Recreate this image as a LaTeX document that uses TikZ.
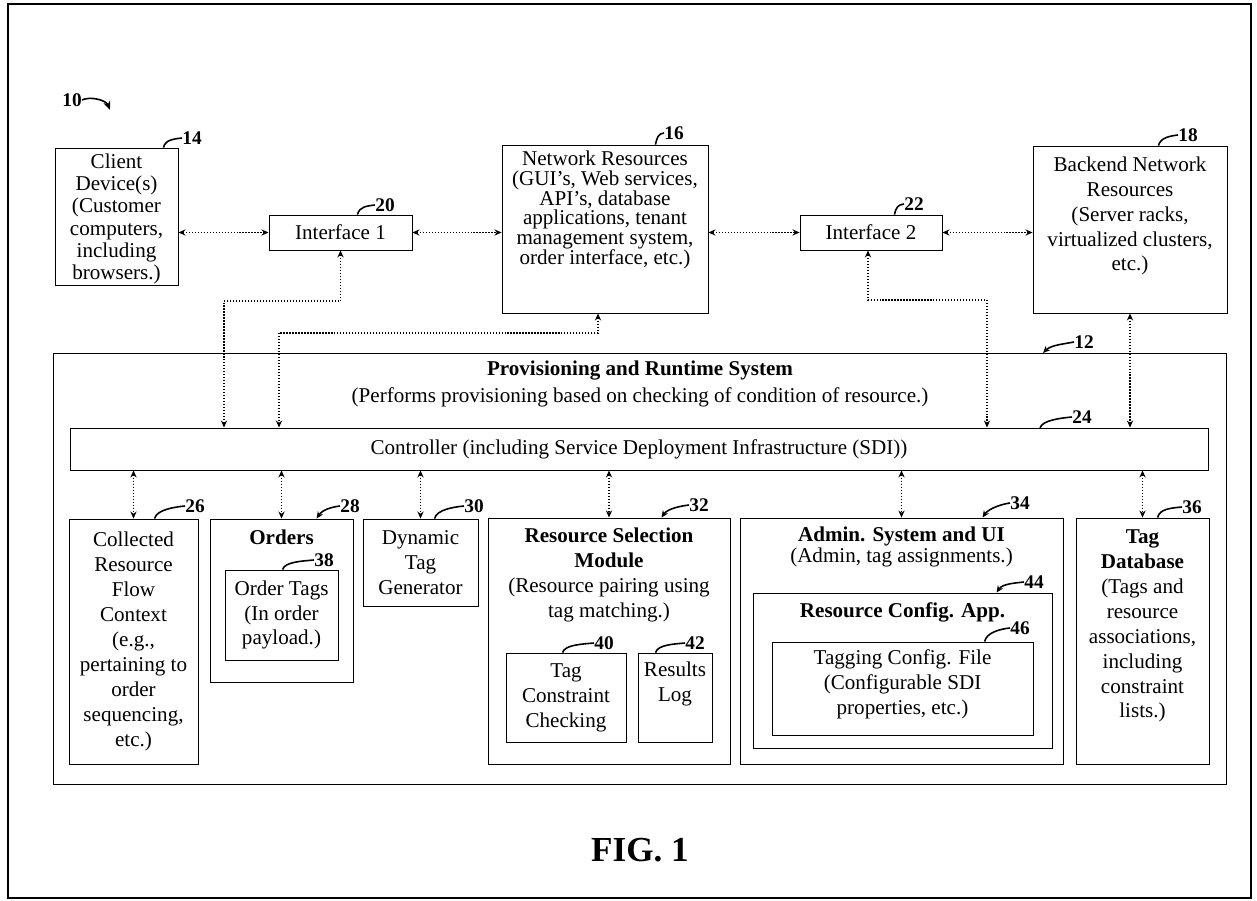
\documentclass[tikz,border=0pt]{standalone}
\usepackage{fontspec}
\setmainfont{Liberation Serif}
\usetikzlibrary{positioning, arrows.meta, fit, shadows, calc}

\begin{document}
\begin{tikzpicture}[x=0.02cm, y=0.02cm,
    box/.style={draw, fill=white, line width=0.5pt, inner sep=0pt,
        drop shadow={shadow xshift=0.8pt, shadow yshift=-0.8pt, fill=black, opacity=1}},
    txt/.style={align=center, inner sep=0pt, font=\fontsize{12}{14.2}\selectfont},
    link/.style={densely dotted, line width=0.7pt,
        {Stealth[length=4pt,width=3.5pt]}-{Stealth[length=4pt,width=3.5pt]}},
    lead/.style={line width=0.9pt},
    leadtip/.style={line width=0.9pt, {Stealth[length=4pt,width=3.5pt]}-},
    num/.style={inner sep=0pt, font=\bfseries\fontsize{11}{12}\selectfont}]
    \useasboundingbox (0,0) rectangle (1257,-901);
    \draw[line width=1pt] (8,-4) rectangle (1251,-898);

    % Figure number
    \node[num] (n10) at (72,-100) {10};
    \coordinate (p10) at (110,-110);
    \draw[-{Stealth[length=5pt,width=4pt]}, line width=0.9pt] (n10.east) .. controls +(8,4) and +(-4,10) .. (p10);

    % Top row
    \node[box, fit={(55,-148) (178,-285)}] (client) {};
    \node[txt, font=\fontsize{12}{12.6}\selectfont] (client-t) at (116.5,-219) {Client\\Device(s)\\(Customer\\computers,\\including\\browsers.)};
    \node[box, fit={(269,-215) (412,-250)}] (if1) {};
    \node[txt] (if1-t) at (if1) {Interface 1};
    \node[box, fit={(502,-145) (708,-313)}] (netres) {};
    \node[txt, font=\fontsize{12}{11.2}\selectfont] (netres-t) at (605,-210) {Network Resources\\(GUI's, Web services,\\API's, database\\applications, tenant\\management system,\\order interface, etc.)};
    \node[box, fit={(800,-215) (942,-250)}] (if2) {};
    \node[txt] (if2-t) at (if2) {Interface 2};
    \node[box, fit={(1033,-146) (1227,-313)}] (backend) {};
    \node[txt] (backend-t) at (1130,-216) {Backend Network\\Resources\\(Server racks,\\virtualized clusters,\\etc.)};

    % Provisioning and runtime system
    \node[box, fit={(53,-353) (1226,-784)}] (prov) {};
    \node[txt, font=\fontsize{12}{15}\selectfont] (prov-t) at (640,-384) {\textbf{Provisioning and Runtime System}\\(Performs provisioning based on checking of condition of resource.)};
    \node[box, fit={(70,-428) (1208,-470)}] (ctrl) {};
    \node[txt] (ctrl-t) at (ctrl) {Controller (including Service Deployment Infrastructure (SDI))};

    % Modules
    \node[box, fit={(69,-519) (198,-764)}] (coll) {};
    \node[txt] (coll-t) at (coll) {Collected\\Resource\\Flow\\Context\\(e.g.,\\pertaining to\\order\\sequencing,\\etc.)};
    \node[box, fit={(210,-519) (353,-682)}] (orders) {};
    \node[txt, font=\bfseries\fontsize{12}{14.2}\selectfont] (orders-t) at (281.5,-537) {Orders};
    \node[box, fit={(225,-570) (338,-660)}] (otags) {};
    \node[txt] (otags-t) at (otags) {Order Tags\\(In order\\payload.)};
    \node[box, fit={(363,-519) (478,-606)}] (dyn) {};
    \node[txt] (dyn-t) at (dyn) {Dynamic\\Tag\\Generator};
    \node[box, fit={(488,-518) (730,-764)}] (rsm) {};
    \node[txt] (rsm-t) at (609,-575) {\textbf{Resource Selection}\\\textbf{Module}\\(Resource pairing using\\tag matching.)};
    \node[box, fit={(506,-653) (626,-742)}] (tcc) {};
    \node[txt] (tcc-t) at (tcc) {Tag\\Constraint\\Checking};
    \node[box, fit={(638,-653) (712,-742)}] (rlog) {};
    \node[txt] (rlog-t) at (675,-684) {Results\\Log};
    \node[box, fit={(740,-518) (1063,-764)}] (admin) {};
    \node[txt, font=\fontsize{12}{12}\selectfont] (admin-t) at (901.5,-547) {\textbf{Admin. System and UI}\\(Admin, tag assignments.)};
    \node[box, fit={(753,-593) (1052,-748)}] (rca) {};
    \node[txt, font=\bfseries\fontsize{12}{14.2}\selectfont] (rca-t) at (902.5,-612) {Resource Config. App.};
    \node[box, fit={(772,-642) (1033,-735)}] (tcf) {};
    \node[txt] (tcf-t) at (902.5,-684) {Tagging Config. File\\(Configurable SDI\\properties, etc.)};
    \node[box, fit={(1076,-518) (1209,-764)}] (tagdb) {};
    \node[txt] (tagdb-t) at (1142.5,-626) {\textbf{Tag}\\\textbf{Database}\\(Tags and\\resource\\associations,\\including\\constraint\\lists.)};

    % Links in the top row
    \draw[link] (client.east |- if1.west) -- (if1.west);
    \draw[link] (if1.east) -- (netres.west |- if1.east);
    \draw[link] (netres.east |- if2.west) -- (if2.west);
    \draw[link] (if2.east) -- (backend.west |- if2.east);

    % Links down to the controller
    \coordinate (k1) at (224,-301);
    \coordinate (k2) at (279,-333);
    \coordinate (k3) at (987,-300);
    \draw[link] (if1.south) |- (k1) -- (k1 |- ctrl.north);
    \draw[link] ($(netres.south)+(-7,0)$) |- (k2) -- (k2 |- ctrl.north);
    \draw[link] ($(if2.south)+(-3,0)$) |- (k3) -- (k3 |- ctrl.north);
    \draw[link] (backend.south) -- (backend.south |- ctrl.north);

    % Links from the controller
    \draw[link] (coll.north |- ctrl.south) -- (coll.north);
    \draw[link] (orders.north |- ctrl.south) -- (orders.north);
    \draw[link] (dyn.north |- ctrl.south) -- (dyn.north);
    \draw[link] (rsm.north |- ctrl.south) -- (rsm.north);
    \draw[link] (admin.north |- ctrl.south) -- (admin.north);
    \draw[link] (tagdb.north |- ctrl.south) -- (tagdb.north);

    % Reference numerals
    \node[num] (n14) at (192,-138) {14};
    \node[num] (n16) at (674,-133) {16};
    \node[num] (n18) at (1188,-135) {18};
    \node[num] (n20) at (385,-205) {20};
    \node[num] (n22) at (914,-204) {22};
    \node[num] (n12) at (1084,-342) {12};
    \node[num] (n24) at (1082,-417) {24};
    \node[num] (n26) at (195,-506) {26};
    \node[num] (n28) at (350,-506) {28};
    \node[num] (n30) at (474,-506) {30};
    \node[num] (n38) at (324,-560) {38};
    \node[num] (n32) at (699,-505) {32};
    \node[num] (n40) at (604,-643) {40};
    \node[num] (n42) at (695,-643) {42};
    \node[num] (n34) at (1020,-503) {34};
    \node[num] (n44) at (1034,-582) {44};
    \node[num] (n46) at (1020,-628) {46};
    \node[num] (n36) at (1192,-507) {36};

    \draw[lead] ($(client.north east)+(-15,0)$) .. controls +(2,8) and +(-8,-1) .. (n14.west);
    \draw[lead] ($(netres.north east)+(-53,0)$) .. controls +(2,8) and +(-6,-1) .. (n16.west);
    \draw[lead] ($(backend.north east)+(-69,0)$) .. controls +(2,8) and +(-8,-1) .. (n18.west);
    \draw[lead] ($(if1.north east)+(-55,0)$) .. controls +(2,8) and +(-8,-1) .. (n20.west);
    \draw[lead] ($(if2.north east)+(-48,0)$) .. controls +(2,8) and +(-6,-1) .. (n22.west);
    \draw[leadtip] (1043,-353) .. controls +(8,8) and +(-10,-2) .. (n12.west);
    \draw[lead] (1040,-428) .. controls +(2,8) and +(-10,-1) .. (n24.west);
    \draw[lead] ($(coll.north west)+(86,0)$) .. controls +(2,9) and +(-10,-1) .. (n26.west);
    \draw[leadtip] ($(orders.north west)+(107,0)$) .. controls +(6,9) and +(-8,-1) .. (n28.west);
    \draw[lead] ($(dyn.north west)+(72,0)$) .. controls +(2,9) and +(-10,-1) .. (n30.west);
    \draw[lead] ($(otags.north west)+(58,0)$) .. controls +(2,8) and +(-10,-1) .. (n38.west);
    \draw[leadtip] ($(rsm.north west)+(174,0)$) .. controls +(6,9) and +(-8,-1) .. (n32.west);
    \draw[lead] ($(tcc.north west)+(57,0)$) .. controls +(2,8) and +(-10,-1) .. (n40.west);
    \draw[lead] ($(rlog.north west)+(18,0)$) .. controls +(2,8) and +(-10,-1) .. (n42.west);
    \draw[leadtip] ($(admin.north west)+(243,0)$) .. controls +(6,9) and +(-8,-1) .. (n34.west);
    \draw[leadtip] ($(rca.north west)+(244,0)$) .. controls +(6,9) and +(-8,-1) .. (n44.west);
    \draw[lead] ($(tcf.north west)+(213,0)$) .. controls +(2,9) and +(-10,-1) .. (n46.west);
    \draw[lead] ($(tagdb.north west)+(82,0)$) .. controls +(2,9) and +(-10,-1) .. (n36.west);

    % Caption
    \node[font=\bfseries\fontsize{20}{24}\selectfont] (fig) at (640,-850) {FIG. 1};
\end{tikzpicture}
\end{document}
